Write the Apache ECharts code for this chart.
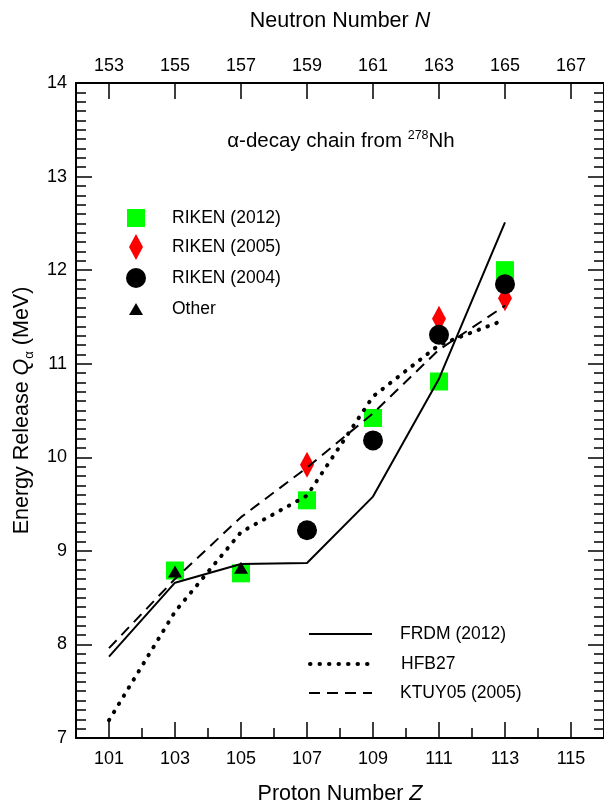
<!DOCTYPE html>
<html><head><meta charset="utf-8">
<script src="https://cdn.jsdelivr.net/npm/echarts@6/dist/echarts.min.js"></script>
<style>html,body{margin:0;padding:0;background:#fff}#c{width:604px;height:801px}</style>
</head><body><div id="c"></div>
<script>
// ---- data ----
const protonZ = [101, 103, 105, 107, 109, 111, 113];
const frdm2012 = [7.87, 8.66, 8.86, 8.87, 9.58, 10.84, 12.51];
const hfb27 = [7.19, 8.35, 9.20, 9.59, 10.65, 11.20, 11.47];
const ktuy05 = [7.96, 8.70, 9.36, 9.89, 10.47, 11.15, 11.62];

const riken2012Z = [103, 105, 107, 109, 111, 113];
const riken2012Q = [8.79, 8.76, 9.54, 10.42, 10.81, 12.00];
const riken2005Z = [107, 111, 113];
const riken2005Q = [9.92, 11.48, 11.70];
const riken2004Z = [107, 109, 111, 113];
const riken2004Q = [9.22, 10.18, 11.31, 11.85];
const otherZ = [103, 105];
const otherQ = [8.78, 8.82];

const bottomMajorTicks = [101, 103, 105, 107, 109, 111, 113, 115];
const bottomMinorTicks = [102, 104, 106, 108, 110, 112, 114];
const topTicks = [153, 155, 157, 159, 161, 163, 165, 167];

const pairs = (xs, ys) => xs.map((x, i) => [x, ys[i]]);
const FONT = "'Liberation Sans', Arial, Helvetica, sans-serif";
const GRID = { left: 76, top: 83, width: 528, height: 655, containLabel: false, outerBoundsMode: 'none' };

const chart = echarts.init(document.getElementById('c'), null, { renderer: 'canvas' });
const axisLine = { show: true, lineStyle: { color: '#000', width: 2 } };
const tickStyle = { color: '#000', width: 1.5 };
const labelStyle = { color: '#000', fontSize: 18, fontFamily: FONT };
const titleRich = {
  a: { fontSize: 21.5, fontFamily: FONT, color: '#000' },
  i: { fontSize: 21.5, fontFamily: FONT, fontStyle: 'italic', color: '#000' }
};

function legendItem(name, left, top, w, h, pad) {
  return {
    data: [name], left: left, top: top, padding: 0, orient: 'vertical',
    itemWidth: w, itemHeight: h, selectedMode: false,
    textStyle: { fontSize: 17.5, fontFamily: FONT, color: '#000', padding: [0, 0, 0, pad] }
  };
}
function lineLegend(name, top, width) {
  const l = legendItem(name, 308, top, 63, 14, 23);
  l.itemStyle = { opacity: 0 };
  l.lineStyle = { width: width };
  return l;
}

chart.setOption({
  animation: false,
  backgroundColor: '#fff',
  grid: [Object.assign({}, GRID), Object.assign({}, GRID)],
  xAxis: [
    {
      gridIndex: 0, type: 'value', position: 'bottom', min: 100, max: 116, interval: 1,
      axisLine: axisLine, splitLine: { show: false },
      axisTick: { inside: true, length: 16, customValues: bottomMajorTicks, lineStyle: tickStyle },
      axisLabel: Object.assign({ customValues: bottomMajorTicks, margin: 12 }, labelStyle),
      name: '{a|Proton Number }{i|Z}', nameLocation: 'middle', nameGap: 45,
      nameTextStyle: { rich: titleRich }
    },
    {
      gridIndex: 0, type: 'value', position: 'top', min: 152, max: 168, interval: 1,
      axisLine: axisLine, splitLine: { show: false },
      axisTick: { inside: true, length: 16, customValues: topTicks, lineStyle: tickStyle },
      axisLabel: Object.assign({ customValues: topTicks, margin: 8 }, labelStyle),
      name: '{a|Neutron Number }{i|N}', nameLocation: 'middle', nameGap: 51,
      nameTextStyle: { rich: titleRich }
    },
    {
      gridIndex: 1, type: 'value', position: 'bottom', min: 100, max: 116, interval: 1,
      axisLine: { show: false }, splitLine: { show: false }, axisLabel: { show: false },
      axisTick: { inside: true, length: 10, customValues: bottomMinorTicks, lineStyle: tickStyle }
    }
  ],
  yAxis: [
    {
      gridIndex: 0, type: 'value', position: 'left', min: 7, max: 14, interval: 1,
      axisLine: axisLine, splitLine: { show: false },
      axisTick: { inside: true, length: 16, lineStyle: tickStyle },
      minorTick: { show: true, splitNumber: 10, length: 10, lineStyle: tickStyle },
      axisLabel: Object.assign({ margin: 9 }, labelStyle),
      name: '{a|Energy Release }{i|Q}{s|α}{a| (MeV)}', nameLocation: 'middle', nameGap: 38, nameRotate: 90,
      nameTextStyle: { rich: {
        a: { fontSize: 21.5, fontFamily: FONT, color: '#000', lineHeight: 28 },
        i: { fontSize: 21.5, fontFamily: FONT, fontStyle: 'italic', color: '#000', lineHeight: 28 },
        s: { fontSize: 13, fontFamily: FONT, color: '#000', lineHeight: 13, verticalAlign: 'bottom' } } }
    },
    {
      gridIndex: 0, type: 'value', position: 'right', min: 7, max: 14, interval: 1,
      axisLine: axisLine, splitLine: { show: false }, axisLabel: { show: false },
      axisTick: { inside: true, length: 16, lineStyle: tickStyle },
      minorTick: { show: true, splitNumber: 10, length: 10, lineStyle: tickStyle }
    },
    { gridIndex: 1, type: 'value', min: 7, max: 14, show: false }
  ],
  legend: [
    legendItem('RIKEN (2012)', 127, 209, 18, 18, 22),
    legendItem('RIKEN (2005)', 129, 234, 14, 26, 24),
    legendItem('RIKEN (2004)', 126, 268, 20, 20, 21),
    legendItem('Other', 129, 300, 14, 12, 24),
    lineLegend('FRDM (2012)', 625, 2),
    lineLegend('HFB27', 655, 4),
    lineLegend('KTUY05 (2005)', 684, 2)
  ],
  graphic: [{
    type: 'text', x: 341, y: 141, z: 10,
    style: {
      text: '{a|α-decay chain from }{sup|278}{a|Nh}', align: 'center', verticalAlign: 'middle',
      rich: {
        a: { fontSize: 20.5, fontFamily: FONT, fill: '#000', lineHeight: 24 },
        sup: { fontSize: 12.5, fontFamily: FONT, fill: '#000', lineHeight: 13, verticalAlign: 'top' }
      }
    }
  }],
  series: [
    { name: 'RIKEN (2012)', type: 'scatter', xAxisIndex: 0, yAxisIndex: 0, symbol: 'rect', symbolSize: 18,
      itemStyle: { color: '#00ff00', opacity: 1 }, data: pairs(riken2012Z, riken2012Q) },
    { name: 'RIKEN (2005)', type: 'scatter', xAxisIndex: 0, yAxisIndex: 0, symbol: 'diamond', symbolSize: [14, 26],
      itemStyle: { color: '#ff0000', opacity: 1 }, data: pairs(riken2005Z, riken2005Q) },
    { name: 'RIKEN (2004)', type: 'scatter', xAxisIndex: 0, yAxisIndex: 0, symbol: 'circle', symbolSize: 20,
      itemStyle: { color: '#000', opacity: 1 }, data: pairs(riken2004Z, riken2004Q) },
    { name: 'Other', type: 'scatter', xAxisIndex: 0, yAxisIndex: 0, symbol: 'triangle', symbolSize: [14, 12],
      itemStyle: { color: '#000', opacity: 1 }, data: pairs(otherZ, otherQ) },
    { name: 'FRDM (2012)', type: 'line', xAxisIndex: 0, yAxisIndex: 0, symbol: 'none', z: 5,
      lineStyle: { color: '#000', width: 2 }, itemStyle: { color: '#000' }, data: pairs(protonZ, frdm2012) },
    { name: 'HFB27', type: 'line', xAxisIndex: 0, yAxisIndex: 0, symbol: 'none', z: 5,
      lineStyle: { color: '#000', width: 4, type: [0.5, 9], cap: 'round' }, itemStyle: { color: '#000' }, data: pairs(protonZ, hfb27) },
    { name: 'KTUY05 (2005)', type: 'line', xAxisIndex: 0, yAxisIndex: 0, symbol: 'none', z: 5,
      lineStyle: { color: '#000', width: 2, type: [11, 7] }, itemStyle: { color: '#000' }, data: pairs(protonZ, ktuy05) }
  ]
});
</script></body></html>
